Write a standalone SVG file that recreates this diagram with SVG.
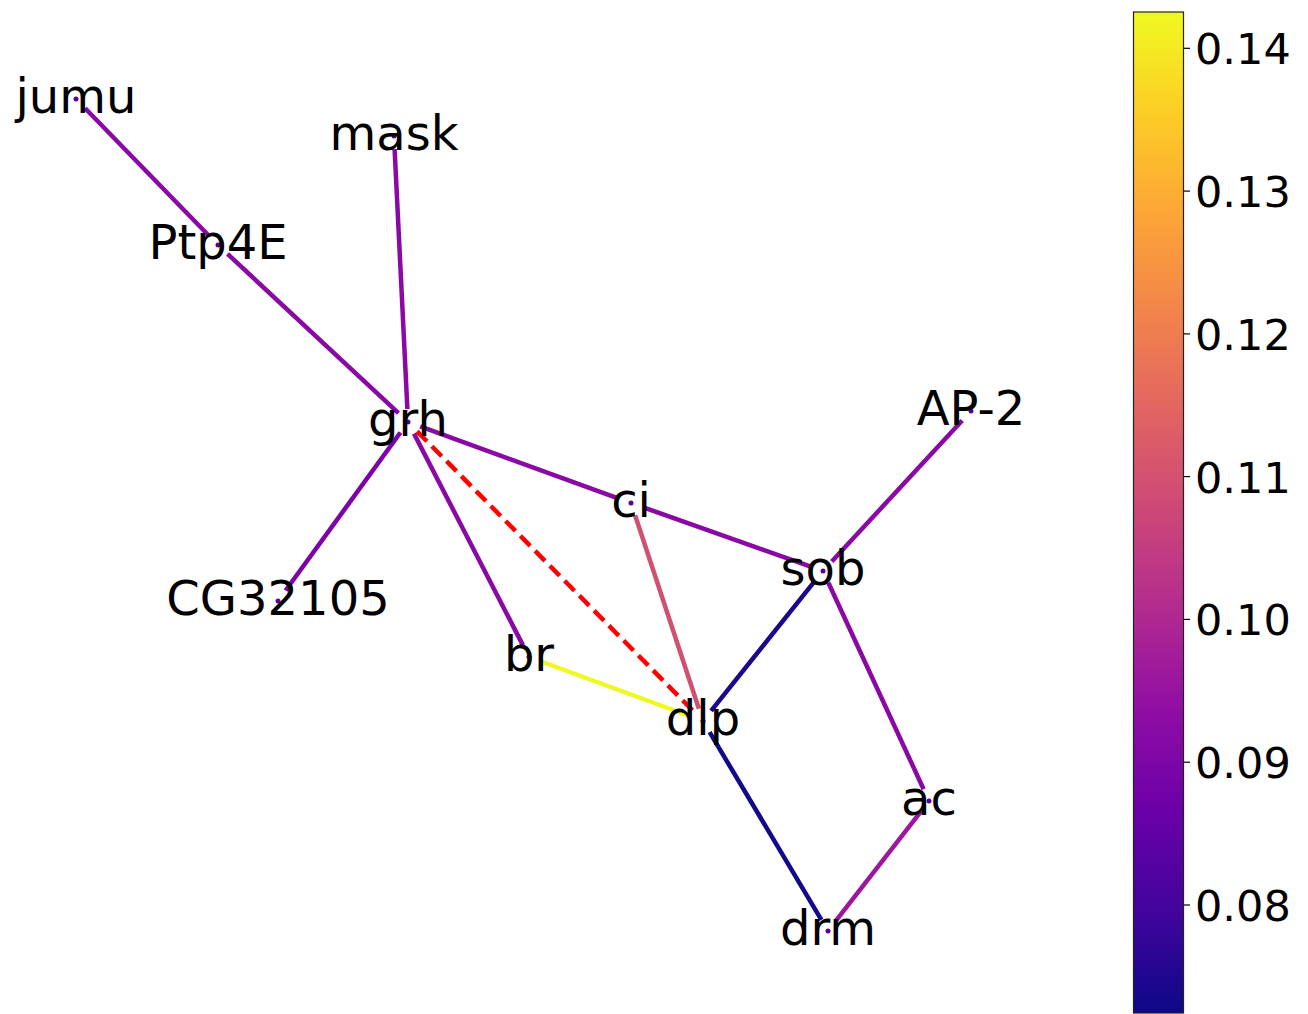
<svg xmlns="http://www.w3.org/2000/svg" width="1308" height="1014" viewBox="0 0 1308 1014">
<style>
.e{stroke-width:4.5;fill:none;stroke-linecap:butt}
.p{stroke:#8a09a5}
.lbl{font-family:"DejaVu Sans",sans-serif;font-size:48px;fill:#000;text-anchor:middle}
.dot{fill:#5c0197}
.tk{font-family:"DejaVu Sans",sans-serif;font-size:43px;fill:#000}
</style>
<defs>
<linearGradient id="plasma" x1="0" y1="1" x2="0" y2="0">
<stop offset="0" stop-color="#0d0887"/>
<stop offset="0.1" stop-color="#41049d"/>
<stop offset="0.2" stop-color="#6a00a8"/>
<stop offset="0.3" stop-color="#8f0da4"/>
<stop offset="0.4" stop-color="#b12a90"/>
<stop offset="0.5" stop-color="#cc4778"/>
<stop offset="0.6" stop-color="#e16462"/>
<stop offset="0.7" stop-color="#f2844b"/>
<stop offset="0.8" stop-color="#fca636"/>
<stop offset="0.9" stop-color="#fcce25"/>
<stop offset="1" stop-color="#f0f921"/>
</linearGradient>
</defs>
<rect width="1308" height="1014" fill="#fff"/>
<g id="edges">
<line class="e p" x1="85.1" y1="108.3" x2="208.9" y2="235.7"/>
<line class="e p" x1="227.5" y1="253.9" x2="398.5" y2="413.1"/>
<line class="e p" x1="394.6" y1="149" x2="407.4" y2="409"/>
<line class="e" stroke="#7d03a8" x1="400.4" y1="432.5" x2="285.6" y2="590.5"/>
<line class="e p" x1="414" y1="433.6" x2="523" y2="645.4"/>
<line class="e p" x1="420.2" y1="426.4" x2="618.8" y2="498.6"/>
<line class="e p" x1="643.3" y1="507.3" x2="810.7" y2="566.7"/>
<line class="e" stroke="#d0516f" x1="635.1" y1="515.3" x2="698.9" y2="708.7"/>
<line class="e" stroke="#eff821" x1="541.2" y1="661.5" x2="690.8" y2="716.5"/>
<line class="e p" x1="831.8" y1="561.5" x2="962.2" y2="420.5"/>
<line class="e" stroke="#1b068d" x1="711.1" y1="710.8" x2="814.9" y2="580.8"/>
<line class="e p" x1="828.4" y1="582.8" x2="923.6" y2="789.2"/>
<line class="e" stroke="#13078a" x1="709.6" y1="732.2" x2="821.4" y2="919.8"/>
<line class="e" stroke="#9c179e" x1="921" y1="811.3" x2="836" y2="920.7"/>
<line class="e" stroke="#ff0000" stroke-dasharray="14,7" x1="417.1" y1="431.3" x2="693.9" y2="711.7"/>
</g>
<g id="jumu"><circle class="dot" cx="76" cy="99" r="2.5"/><text class="lbl" x="76" y="113">jumu</text></g>
<g id="Ptp4E"><circle class="dot" cx="218" cy="245" r="2.5"/><text class="lbl" x="218" y="259">Ptp4E</text></g>
<g id="mask"><circle class="dot" cx="394" cy="136" r="2.5"/><text class="lbl" x="394" y="150">mask</text></g>
<g id="grh"><circle class="dot" cx="408" cy="422" r="2.5"/><text class="lbl" x="408" y="436">grh</text></g>
<g id="CG32105"><circle class="dot" cx="278" cy="601" r="2.5"/><text class="lbl" x="278" y="615">CG32105</text></g>
<g id="ci"><circle class="dot" cx="631" cy="503" r="2.5"/><text class="lbl" x="631" y="517">ci</text></g>
<g id="sob"><circle class="dot" cx="823" cy="571" r="2.5"/><text class="lbl" x="823" y="585">sob</text></g>
<g id="AP-2"><circle class="dot" cx="971" cy="411" r="2.5"/><text class="lbl" x="971" y="425">AP-2</text></g>
<g id="br"><circle class="dot" cx="529" cy="657" r="2.5"/><text class="lbl" x="529" y="671">br</text></g>
<g id="dlp"><circle class="dot" cx="703" cy="721" r="2.5"/><text class="lbl" x="703" y="735">dlp</text></g>
<g id="ac"><circle class="dot" cx="929" cy="801" r="2.5"/><text class="lbl" x="929" y="815">ac</text></g>
<g id="drm"><circle class="dot" cx="828" cy="931" r="2.5"/><text class="lbl" x="828" y="945">drm</text></g>
<g id="colorbar">
<rect x="1133.5" y="12" width="50" height="1001" fill="url(#plasma)" stroke="#222" stroke-width="1.2"/>
<g stroke="#000" stroke-width="1.2">
<line x1="1184" y1="48.3" x2="1190" y2="48.3"/>
<line x1="1184" y1="191.1" x2="1190" y2="191.1"/>
<line x1="1184" y1="333.9" x2="1190" y2="333.9"/>
<line x1="1184" y1="476.6" x2="1190" y2="476.6"/>
<line x1="1184" y1="619.4" x2="1190" y2="619.4"/>
<line x1="1184" y1="762.2" x2="1190" y2="762.2"/>
<line x1="1184" y1="905" x2="1190" y2="905"/>
</g>
<text class="tk" x="1195" y="64.3">0.14</text>
<text class="tk" x="1195" y="207.1">0.13</text>
<text class="tk" x="1195" y="349.9">0.12</text>
<text class="tk" x="1195" y="492.6">0.11</text>
<text class="tk" x="1195" y="635.4">0.10</text>
<text class="tk" x="1195" y="778.2">0.09</text>
<text class="tk" x="1195" y="921">0.08</text>
</g>
</svg>
